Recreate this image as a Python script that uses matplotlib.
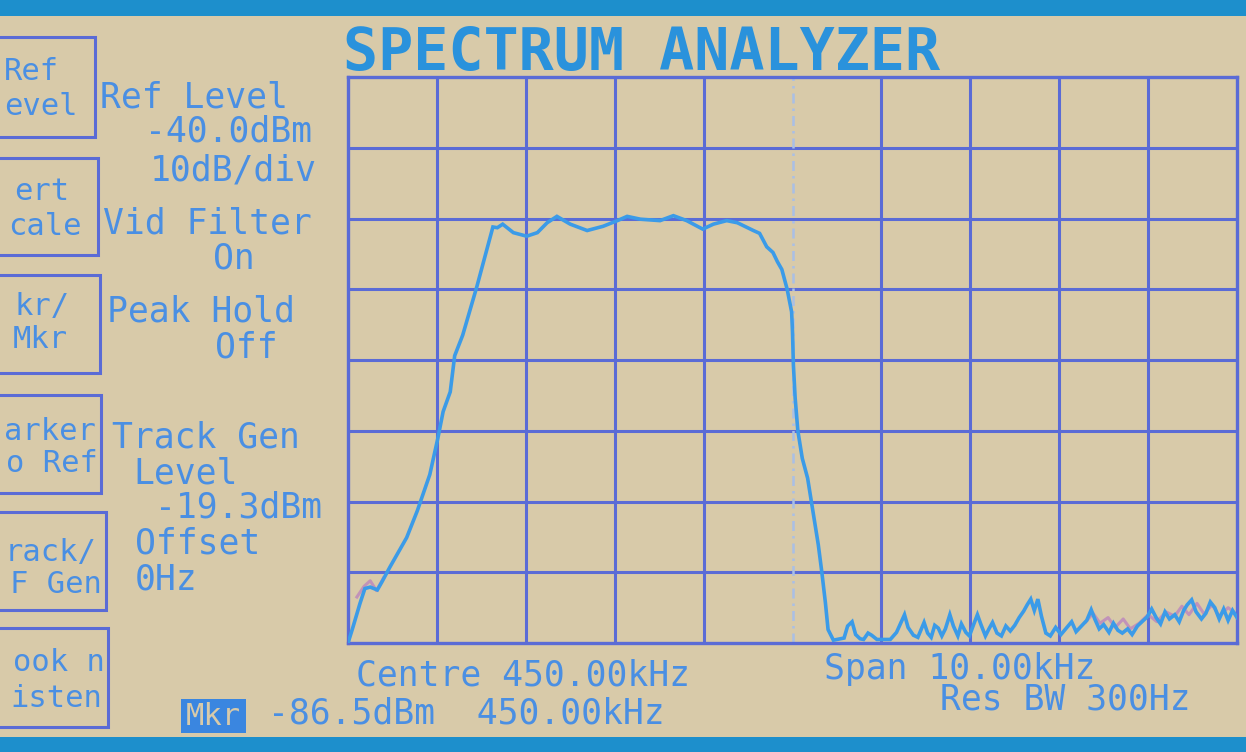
import matplotlib
matplotlib.use("Agg")
import matplotlib.pyplot as plt
from matplotlib.patches import Rectangle

# ---------------- data ----------------
centre_khz = 450.0
span_khz = 10.0
ref_level_dbm = -40.0
db_per_div = 10.0
n_xdiv = 10
n_ydiv = 8

trace_freq_khz = [
    445.00, 445.05, 445.135, 445.19, 445.25, 445.33, 445.38, 445.47, 445.66, 445.78,
    445.92, 446.01, 446.07, 446.15, 446.20, 446.29, 446.45, 446.56, 446.63, 446.68,
    446.74, 446.86, 447.01, 447.13, 447.24, 447.35, 447.50, 447.69, 447.87, 448.03,
    448.14, 448.29, 448.51, 448.66, 448.81, 448.99, 449.11, 449.26, 449.38, 449.56,
    449.63, 449.71, 449.78, 449.83, 449.88, 449.94, 449.99, 450.00, 450.01, 450.03,
    450.06, 450.11, 450.17, 450.23, 450.29, 450.33, 450.37, 450.40, 450.46, 450.58,
    450.62, 450.67, 450.71, 450.76, 450.80, 450.85, 450.89, 450.95, 451.10, 451.17,
    451.21, 451.26, 451.30, 451.36, 451.41, 451.45, 451.48, 451.52, 451.56, 451.60,
    451.64, 451.68, 451.72, 451.77, 451.81, 451.86, 451.90, 451.95, 451.99, 452.04,
    452.08, 452.12, 452.17, 452.21, 452.25, 452.30, 452.35, 452.40, 452.45, 452.50,
    452.55, 452.60, 452.64, 452.68, 452.72, 452.76, 452.80, 452.85, 452.90, 452.96,
    453.02, 453.08, 453.14, 453.19, 453.25, 453.31, 453.36, 453.40, 453.45, 453.50,
    453.56, 453.61, 453.66, 453.71, 453.77, 453.82, 453.88, 453.94, 453.99, 454.04,
    454.09, 454.14, 454.19, 454.24, 454.30, 454.35, 454.40, 454.44, 454.49, 454.54,
    454.60, 454.65, 454.70, 454.75, 454.80, 454.85, 454.90, 454.95, 455.00,
]
trace_level_dbm = [
    -120.0, -118.0, -114.4, -112.3, -112.1, -112.5, -111.4, -109.3, -105.1, -101.3,
    -96.2, -91.1, -87.3, -84.5, -79.4, -76.5, -69.6, -64.5, -61.2, -61.3,
    -60.8, -62.0, -62.5, -62.0, -60.6, -59.7, -60.8, -61.7, -61.1, -60.3,
    -59.7, -60.1, -60.3, -59.6, -60.3, -61.5, -60.8, -60.3, -60.6, -61.7,
    -62.1, -64.0, -64.8, -66.1, -67.2, -70.0, -73.2, -76.0, -80.7, -85.4,
    -90.0, -93.9, -96.7, -101.4, -106.1, -110.0, -114.3, -118.1, -119.6, -119.3,
    -117.6, -117.0, -118.8, -119.4, -119.5, -118.6, -118.9, -119.5, -119.5, -118.5,
    -117.4, -116.0, -117.8, -118.9, -119.2, -118.0, -117.1, -118.6, -119.2, -117.5,
    -117.9, -119.0, -118.0, -116.0, -117.6, -119.0, -117.3, -118.5, -119.0, -117.3,
    -116.0, -117.4, -119.0, -118.0, -117.1, -118.6, -119.0, -117.6, -118.3, -117.5,
    -116.4, -115.5, -114.6, -113.8, -115.4, -113.8, -116.2, -118.6, -119.0, -117.8,
    -118.8, -117.9, -117.0, -118.4, -117.6, -116.8, -115.3, -116.6, -118.0, -117.4,
    -118.5, -117.2, -118.2, -118.6, -118.0, -118.8, -117.6, -116.9, -116.3, -115.2,
    -116.4, -117.3, -115.6, -116.6, -116.0, -117.0, -115.4, -114.6, -113.9, -115.6,
    -116.6, -115.8, -114.2, -115.0, -116.6, -115.2, -116.8, -115.4, -116.4,
]

# faint second (older) trace, visible in two places
ghost_low_freq_khz = [445.10, 445.18, 445.25, 445.32, 445.40]
ghost_low_level_dbm = [-113.5, -112.0, -111.2, -112.6, -110.8]
ghost_high_freq_khz = [453.30, 453.38, 453.46, 453.55, 453.63, 453.72, 453.80, 453.90,
                       454.00, 454.10, 454.20, 454.30, 454.38, 454.46, 454.55, 454.63,
                       454.72, 454.80, 454.90, 455.00]
ghost_high_level_dbm = [-117.0, -115.8, -117.2, -116.4, -117.8, -116.6, -118.0, -117.2,
                        -116.0, -117.0, -115.6, -116.2, -114.8, -116.0, -114.4, -115.9,
                        -114.6, -116.2, -115.0, -116.0]

side_labels = ["Ref Level", "-40.0dBm", "10dB/div", "Vid Filter", "On",
               "Peak Hold", "Off", "Track Gen", "Level", "-19.3dBm", "Offset", "0Hz"]
# softkey captions as visible (the screen edge cuts their left parts)
softkeys = [("Ref", "evel"), ("ert", "cale"), ("kr/", "Mkr"),
            ("arker", "o Ref"), ("rack/", "F Gen"), ("ook n", "isten")]
title_text = "SPECTRUM ANALYZER"
centre_text = "Centre 450.00kHz"
span_text = "Span 10.00kHz"
marker_text = "-86.5dBm  450.00kHz"
resbw_text = "Res BW 300Hz"

# ---------------- style ----------------
W, H = 1246, 752
BG = "#d8caa9"
GRID = "#5a6bd6"
TRACE = "#3b9be8"
GHOST = "#b87cc0"
TEXT = "#4a8fe3"
TITLE = "#2a92dc"
BEZEL = "#1d8fcc"
FONT = "DejaVu Sans Mono"

fig = plt.figure(figsize=(W / 100, H / 100), dpi=100, facecolor=BG)


def fx(x):
    return x / W


def fy(y):
    return 1 - y / H


# bezel bands
fig.patches.append(Rectangle((0, fy(16)), 1, 16 / H, transform=fig.transFigure,
                             facecolor=BEZEL, edgecolor="none", zorder=0))
fig.patches.append(Rectangle((0, 0), 1, (H - 737) / H, transform=fig.transFigure,
                             facecolor=BEZEL, edgecolor="none", zorder=0))

# plot area
left, right, top, bottom = 348, 1237, 77, 643
ax = fig.add_axes([fx(left), fy(bottom), (right - left) / W, (bottom - top) / H])
ax.set_facecolor(BG)
x0 = centre_khz - span_khz / 2
x1 = centre_khz + span_khz / 2
y1 = ref_level_dbm
y0 = ref_level_dbm - n_ydiv * db_per_div
ax.set_xlim(x0, x1)
ax.set_ylim(y0, y1)
ax.set_xticks([])
ax.set_yticks([])
for s in ax.spines.values():
    s.set_color(GRID)
    s.set_linewidth(2.4)

xstep = span_khz / n_xdiv
for i in range(1, n_xdiv):
    xv = x0 + i * xstep
    if abs(xv - centre_khz) < 1e-9:
        continue
    ax.axvline(xv, color=GRID, lw=2.2, zorder=1)
for j in range(1, n_ydiv):
    ax.axhline(y0 + j * db_per_div, color=GRID, lw=2.2, zorder=1)
ax.axvline(centre_khz, color="#a9bfe6", lw=1.8, ls=(0, (4, 2, 1, 2)), zorder=1)

ax.plot(ghost_low_freq_khz, ghost_low_level_dbm, color=GHOST, lw=2.2, alpha=0.7, zorder=2)
ax.plot(ghost_high_freq_khz, ghost_high_level_dbm, color=GHOST, lw=2.2, alpha=0.7, zorder=2)
ax.plot(trace_freq_khz, trace_level_dbm, color=TRACE, lw=2.6, zorder=3,
        solid_joinstyle="miter")

# title
fig.text(fx(343), fy(70), title_text, color=TITLE, fontsize=42, family=FONT,
         fontweight="bold", va="baseline", ha="left")

# side info labels: (x, baseline)
side_pos = [(100, 108), (145, 141), (150, 180), (103, 233), (213, 268),
            (107, 322), (215, 357), (112, 447), (133, 483), (155, 517),
            (135, 553), (135, 590)]
for txt, (x, y) in zip(side_labels, side_pos):
    fig.text(fx(x), fy(y), txt, color=TEXT, fontsize=25, family=FONT,
             va="baseline", ha="left")

# softkey boxes (cut off by the left edge)
boxes = [(37, 137, 95), (158, 255, 98), (275, 373, 100),
         (395, 493, 101), (512, 610, 106), (628, 727, 108)]
key_pos = [((4, 80), (4, 115)), ((14, 200), (8, 235)), ((14, 315), (13, 348)),
           ((4, 440), (6, 472)), ((5, 561), (10, 593)), ((13, 671), (10, 707))]
for (t, b, r), ((xa, ya), (xb, yb)), (l1, l2) in zip(boxes, key_pos, softkeys):
    fig.patches.append(Rectangle((fx(-40), fy(b)), (r + 40) / W, (b - t) / H,
                                 transform=fig.transFigure, facecolor="none",
                                 edgecolor=GRID, lw=2.2, zorder=1))
    fig.text(fx(xa), fy(ya), l1, color=TEXT, fontsize=22, family=FONT,
             va="baseline", ha="left")
    fig.text(fx(xb), fy(yb), l2, color=TEXT, fontsize=22, family=FONT,
             va="baseline", ha="left")

# bottom annotations
fig.text(fx(356), fy(686), centre_text, color=TEXT, fontsize=25, family=FONT,
         va="baseline", ha="left")
fig.text(fx(824), fy(679), span_text, color=TEXT, fontsize=25, family=FONT,
         va="baseline", ha="left")
fig.text(fx(940), fy(709), resbw_text, color=TEXT, fontsize=25, family=FONT,
         va="baseline", ha="left")
fig.text(fx(268), fy(724), marker_text, color=TEXT, fontsize=25, family=FONT,
         va="baseline", ha="left")
fig.patches.append(Rectangle((fx(181), fy(733)), 65 / W, 34 / H,
                             transform=fig.transFigure, facecolor="#3a86e0",
                             edgecolor="none", zorder=1))
fig.text(fx(213), fy(725), "Mkr", color=BG, fontsize=22, family=FONT,
         va="baseline", ha="center")

fig.savefig("out.png", dpi=100, facecolor=BG)
